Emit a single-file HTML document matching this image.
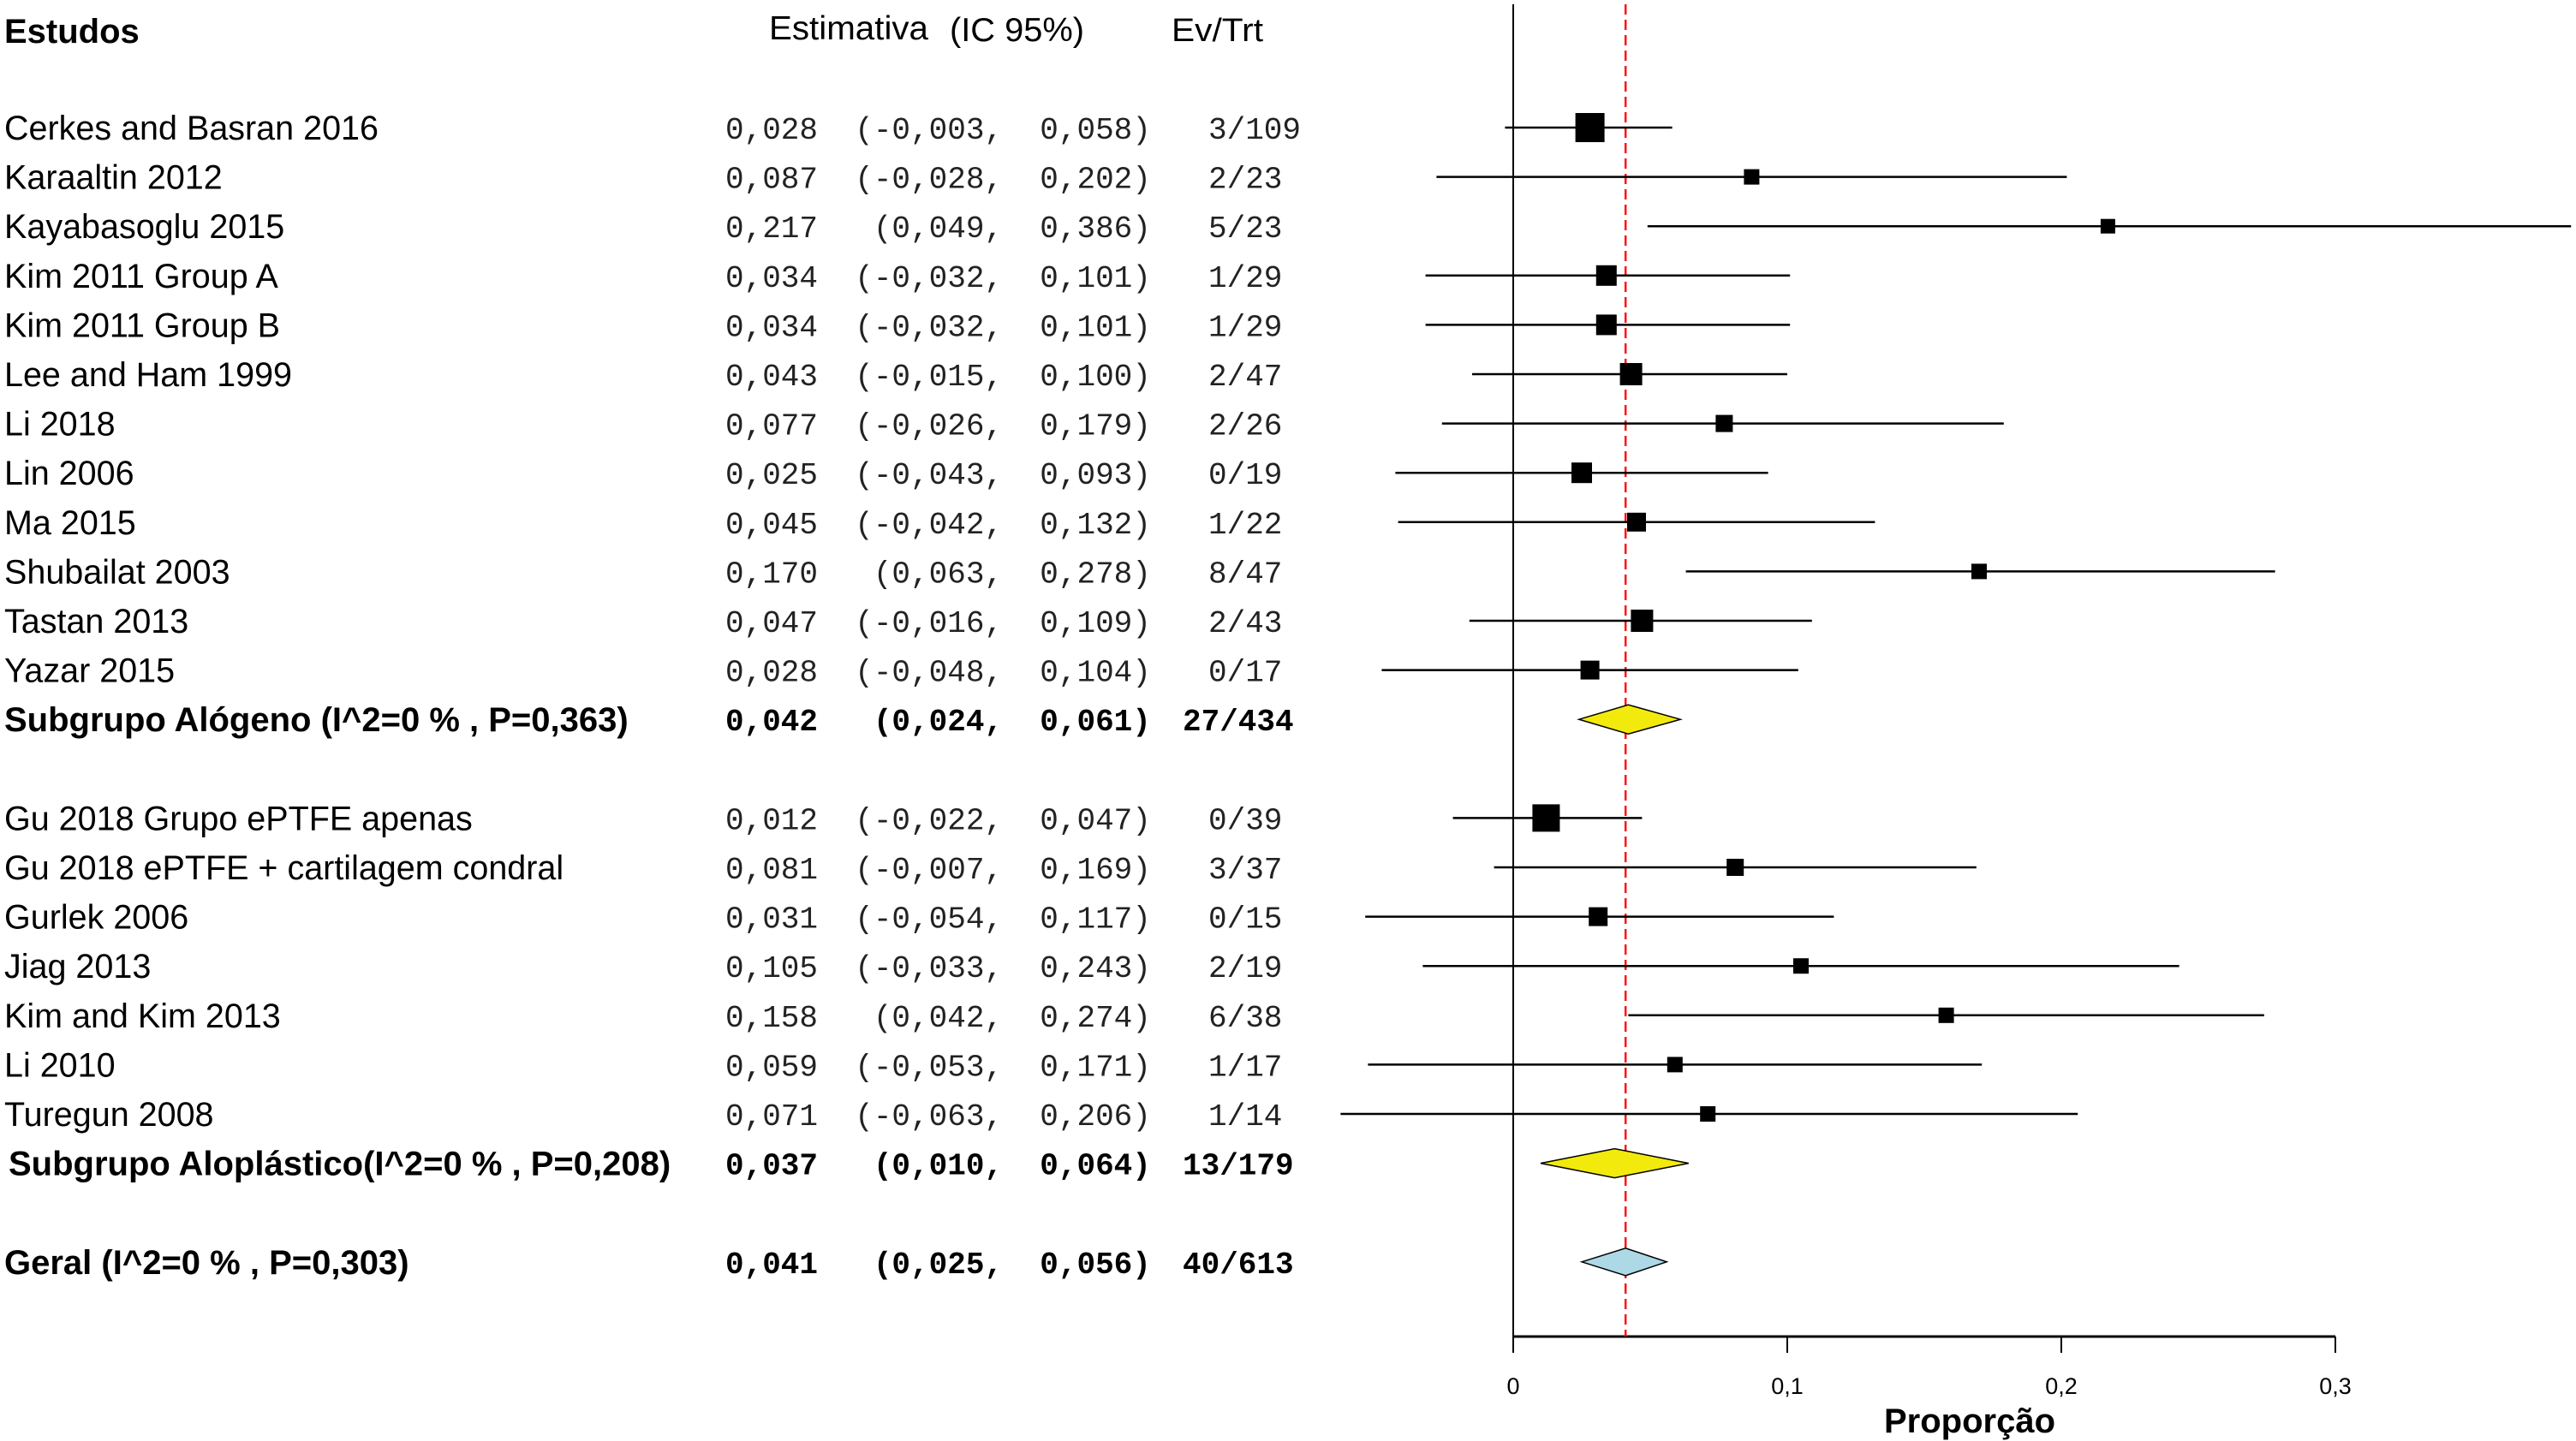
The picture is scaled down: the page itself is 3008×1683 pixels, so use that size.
<!DOCTYPE html>
<html><head><meta charset="utf-8"><style>
html,body{margin:0;padding:0;background:#fff;}
svg{display:block;}
.sans{font-family:"Liberation Sans",sans-serif;}
.mono{font-family:"Liberation Mono",monospace;}
</style></head><body>
<svg id="chart" width="3008" height="1683" viewBox="0 0 3008 1683" xmlns="http://www.w3.org/2000/svg">
<g class="sans">
<text x="5" y="50" font-size="40" font-weight="bold">Estudos</text>
<text x="898" y="46" font-size="39" textLength="186" lengthAdjust="spacingAndGlyphs">Estimativa</text>
<text x="1109" y="48" font-size="39" textLength="157" lengthAdjust="spacingAndGlyphs">(IC 95%)</text>
<text x="1368" y="48" font-size="38" textLength="107" lengthAdjust="spacingAndGlyphs">Ev/Trt</text>
</g>
<g id="plot"></g>
</svg>
<script>
const labels = ["Cerkes and Basran 2016","Karaaltin 2012","Kayabasoglu 2015","Kim 2011 Group A","Kim 2011 Group B","Lee and Ham 1999","Li 2018","Lin 2006","Ma 2015","Shubailat 2003","Tastan 2013","Yazar 2015","Subgrupo Alógeno (I^2=0 % , P=0,363)","","Gu 2018 Grupo ePTFE apenas","Gu 2018 ePTFE + cartilagem condral","Gurlek 2006","Jiag 2013","Kim and Kim 2013","Li 2010","Turegun 2008","Subgrupo Aloplástico(I^2=0 % , P=0,208)","","Geral (I^2=0 % , P=0,303)"];
const kinds = ["s","s","s","s","s","s","s","s","s","s","s","s","sub","","s","s","s","s","s","s","s","sub","","all"];
const est = [0.028,0.087,0.217,0.034,0.034,0.043,0.077,0.025,0.045,0.170,0.047,0.028,0.042,null,0.012,0.081,0.031,0.105,0.158,0.059,0.071,0.037,null,0.041];
const lower = [-0.003,-0.028,0.049,-0.032,-0.032,-0.015,-0.026,-0.043,-0.042,0.063,-0.016,-0.048,0.024,null,-0.022,-0.007,-0.054,-0.033,0.042,-0.053,-0.063,0.010,null,0.025];
const upper = [0.058,0.202,0.386,0.101,0.101,0.100,0.179,0.093,0.132,0.278,0.109,0.104,0.061,null,0.047,0.169,0.117,0.243,0.274,0.171,0.206,0.064,null,0.056];
const events = ["3/109","2/23","5/23","1/29","1/29","2/47","2/26","0/19","1/22","8/47","2/43","0/17","27/434","","0/39","3/37","0/15","2/19","6/38","1/17","1/14","13/179","","40/613"];
const weights = [34,18,17,24,24,26,20,24,22,18,26,22,0,0,32,20,22,18,18,18,18,0,0,0];
const ticks = [0,0.1,0.2,0.3];
const tickLabels = ["0","0,1","0,2","0,3"];
const pooled = 0.041;

const NS="http://www.w3.org/2000/svg";
const g=document.getElementById('plot');
const X0=1767, XS=3200, Y0=149, DY=57.6;
const xs=v=>X0+v*XS;
const ys=i=>Y0+i*DY;
const fmt=v=>v.toFixed(3).replace('.',',');
function mk(tag,attrs,parent){const e=document.createElementNS(NS,tag);for(const k in attrs)e.setAttribute(k,attrs[k]);(parent||g).appendChild(e);return e;}

const ax=mk('line',{x1:X0,y1:5,x2:X0,y2:1561,stroke:'#000','stroke-width':2});


const hx=mk('line',{x1:xs(ticks[0]),y1:1561,x2:xs(ticks[ticks.length-1]),y2:1561,stroke:'#000','stroke-width':3});


ticks.forEach((t,i)=>{
  const tl=mk('line',{x1:xs(t),y1:1561,x2:xs(t),y2:1580,stroke:'#000','stroke-width':2});
  
  
  const tt=mk('text',{x:xs(t),y:1628,'font-size':27,'text-anchor':'middle','class':'sans'});
  tt.textContent=tickLabels[i];
  
  
});
const xt=mk('text',{x:2300,y:1673,'font-size':40,'font-weight':'bold','text-anchor':'middle','class':'sans'});
xt.textContent='Proporção';



const rl=mk('line',{x1:xs(pooled),y1:5,x2:xs(pooled),y2:1561,stroke:'#ff1010','stroke-width':2.5,'stroke-dasharray':'12,6'});



labels.forEach((lab,i)=>{
  if(!kinds[i])return;
  const y=ys(i);
  const bold=kinds[i]!=='s';
  const t=mk('text',{x:kinds[i]==='sub'&&i>15?10:5,y:y+14,'font-size':bold?40:39.5,'class':'sans','font-weight':bold?'bold':'normal'});
  t.textContent=lab;
  
  
  const lo=('('+fmt(lower[i])).padStart(7,' ');
  const str=fmt(est[i])+'  '+lo+',  '+fmt(upper[i])+')';
  const m=mk('text',{x:847,y:y+13,'font-size':36,'class':'mono','font-weight':bold?'bold':'normal',fill:bold?'#000':'#222'});
  m.style.whiteSpace='pre';
  m.textContent=str;
  
  
  const ev=mk('text',{x:bold?1381:1411,y:y+13,'font-size':36,'class':'mono','font-weight':bold?'bold':'normal',fill:bold?'#000':'#222'});
  ev.textContent=events[i];
  
  
  if(kinds[i]==='s'){
    const l=mk('line',{x1:xs(lower[i]),y1:y,x2:Math.min(xs(upper[i]),3008),y2:y,stroke:'#000','stroke-width':2.5});
    
    
    const w=weights[i];
    const r=mk('rect',{x:xs(est[i])-w/2,y:y-w/2,width:w,height:w,fill:'#000'});
    
    
  } else {
    const h=kinds[i]==='all'?16:17;
    const p=mk('polygon',{points:`${xs(lower[i])},${y} ${xs(est[i])},${y-h} ${xs(upper[i])},${y} ${xs(est[i])},${y+h}`,fill:kinds[i]==='all'?'#add8e6':'#f2ea0c',stroke:'#000','stroke-width':1.5});
    
    
  }
});
</script>
</body></html>
